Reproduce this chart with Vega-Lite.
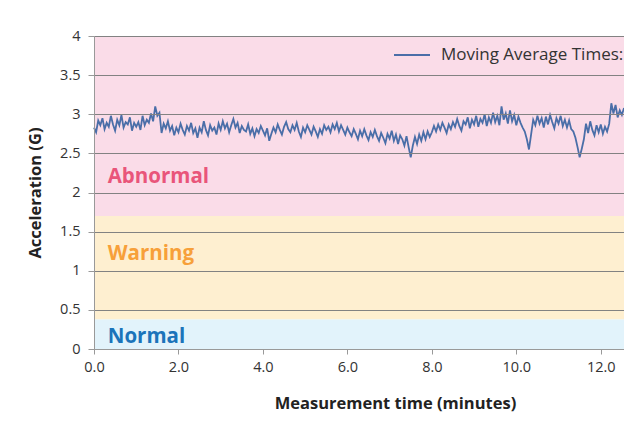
{
  "$schema": "https://vega.github.io/schema/vega-lite/v6.json",
  "width": 530,
  "height": 313,
  "autosize": {"type": "none"},
  "padding": {"left": 94, "top": 36, "right": 0, "bottom": 77},
  "background": "white",
  "config": {
    "view": {"stroke": null},
    "font": "Open Sans",
    "axis": {"labelFontSize": 14.5, "labelColor": "#333", "titleFontSize": 16.5, "titleFontWeight": "bold", "titleColor": "#222",
      "tickColor": "#999", "domainColor": "#999", "labelOverlap": false, "labelFlush": false},
    "axisX": {"grid": false, "tickSize": 5, "labelPadding": 6, "titlePadding": 22},
    "axisY": {"grid": true, "gridColor": "#828282", "gridWidth": 1.1, "tickSize": 6, "labelPadding": 8, "titlePadding": 16}
  },
  "resolve": {"scale": {"color": "independent"}, "legend": {"color": "independent"}},
  "layer": [
    {
      "data": {"values": [
        {"band": "Normal", "lo": 0, "hi": 0.38},
        {"band": "Warning", "lo": 0.38, "hi": 1.7},
        {"band": "Abnormal", "lo": 1.7, "hi": 4}
      ]},
      "mark": {"type": "rect"},
      "encoding": {
        "x": {"datum": 0, "type": "quantitative", "scale": {"domain": [0, 12.55], "nice": false, "zero": false},
          "axis": {"title": "Measurement time (minutes)", "values": [0, 2, 4, 6, 8, 10, 12], "format": ".1f", "titleX": 301, "zindex": 1}},
        "x2": {"datum": 12.55},
        "y": {"field": "lo", "type": "quantitative", "scale": {"domain": [0, 4], "nice": false},
          "axis": {"title": "Acceleration (G)", "values": [0, 0.5, 1, 1.5, 2, 2.5, 3, 3.5, 4], "format": "~g", "zindex": 1, "grid": true}},
        "y2": {"field": "hi"},
        "color": {"field": "band", "type": "nominal", "scale": {"domain": ["Normal", "Warning", "Abnormal"], "range": ["#e2f3fb", "#feefd0", "#fadce8"]}, "legend": null}
      }
    },
    {
      "data": {"values": [
        {"band": "Abnormal", "t": 0.325, "g": 2.2},
        {"band": "Warning", "t": 0.325, "g": 1.22},
        {"band": "Normal", "t": 0.325, "g": 0.15}
      ]},
      "mark": {"type": "text", "align": "left", "baseline": "middle", "fontSize": 20.5, "fontWeight": "bold"},
      "encoding": {
        "x": {"field": "t", "type": "quantitative",
          "axis": {"title": "Measurement time (minutes)", "values": [0, 2, 4, 6, 8, 10, 12], "format": ".1f", "titleX": 301, "zindex": 1}},
        "y": {"field": "g", "type": "quantitative",
          "axis": {"title": "Acceleration (G)", "values": [0, 0.5, 1, 1.5, 2, 2.5, 3, 3.5, 4], "format": "~g", "zindex": 1, "grid": true}},
        "text": {"field": "band"},
        "color": {"field": "band", "type": "nominal", "scale": {"domain": ["Normal", "Warning", "Abnormal"], "range": ["#1b74ba", "#f7a03a", "#e9557a"]}, "legend": null}
      }
    },
    {
      "data": {"values": [
        {"t":0.00,"g":2.83},{"t":0.05,"g":2.77},{"t":0.10,"g":2.92},{"t":0.15,"g":2.86},{"t":0.20,"g":2.95},{"t":0.25,"g":2.81},{"t":0.30,"g":2.89},{"t":0.35,"g":2.84},{"t":0.40,"g":2.98},{"t":0.45,"g":2.87},
        {"t":0.50,"g":2.79},{"t":0.55,"g":2.93},{"t":0.60,"g":2.86},{"t":0.65,"g":2.99},{"t":0.70,"g":2.83},{"t":0.75,"g":2.90},{"t":0.80,"g":2.87},{"t":0.85,"g":2.96},{"t":0.90,"g":2.79},{"t":0.95,"g":2.89},
        {"t":1.00,"g":2.84},{"t":1.05,"g":2.90},{"t":1.10,"g":2.80},{"t":1.15,"g":2.98},{"t":1.20,"g":2.86},{"t":1.25,"g":2.93},{"t":1.30,"g":2.89},{"t":1.35,"g":3.01},{"t":1.40,"g":2.91},{"t":1.45,"g":3.10},
        {"t":1.50,"g":2.98},{"t":1.55,"g":3.02},{"t":1.60,"g":2.76},{"t":1.65,"g":2.88},{"t":1.70,"g":2.82},{"t":1.75,"g":2.91},{"t":1.80,"g":2.79},{"t":1.85,"g":2.85},{"t":1.90,"g":2.73},{"t":1.95,"g":2.83},
        {"t":2.00,"g":2.77},{"t":2.05,"g":2.88},{"t":2.10,"g":2.80},{"t":2.15,"g":2.74},{"t":2.20,"g":2.85},{"t":2.25,"g":2.79},{"t":2.30,"g":2.89},{"t":2.35,"g":2.76},{"t":2.40,"g":2.82},{"t":2.45,"g":2.70},
        {"t":2.50,"g":2.83},{"t":2.55,"g":2.77},{"t":2.60,"g":2.91},{"t":2.65,"g":2.80},{"t":2.70,"g":2.73},{"t":2.75,"g":2.86},{"t":2.80,"g":2.79},{"t":2.85,"g":2.83},{"t":2.90,"g":2.74},{"t":2.95,"g":2.88},
        {"t":3.00,"g":2.80},{"t":3.05,"g":2.91},{"t":3.10,"g":2.82},{"t":3.15,"g":2.88},{"t":3.20,"g":2.77},{"t":3.25,"g":2.86},{"t":3.30,"g":2.94},{"t":3.35,"g":2.83},{"t":3.40,"g":2.89},{"t":3.45,"g":2.76},
        {"t":3.50,"g":2.85},{"t":3.55,"g":2.80},{"t":3.60,"g":2.78},{"t":3.65,"g":2.87},{"t":3.70,"g":2.75},{"t":3.75,"g":2.82},{"t":3.80,"g":2.72},{"t":3.85,"g":2.81},{"t":3.90,"g":2.76},{"t":3.95,"g":2.85},
        {"t":4.00,"g":2.79},{"t":4.05,"g":2.73},{"t":4.10,"g":2.82},{"t":4.15,"g":2.66},{"t":4.20,"g":2.75},{"t":4.25,"g":2.83},{"t":4.30,"g":2.77},{"t":4.35,"g":2.87},{"t":4.40,"g":2.80},{"t":4.45,"g":2.74},
        {"t":4.50,"g":2.84},{"t":4.55,"g":2.90},{"t":4.60,"g":2.81},{"t":4.65,"g":2.77},{"t":4.70,"g":2.86},{"t":4.75,"g":2.80},{"t":4.80,"g":2.89},{"t":4.85,"g":2.78},{"t":4.90,"g":2.71},{"t":4.95,"g":2.83},
        {"t":5.00,"g":2.77},{"t":5.05,"g":2.86},{"t":5.10,"g":2.80},{"t":5.15,"g":2.74},{"t":5.20,"g":2.84},{"t":5.25,"g":2.78},{"t":5.30,"g":2.71},{"t":5.35,"g":2.81},{"t":5.40,"g":2.75},{"t":5.45,"g":2.86},
        {"t":5.50,"g":2.80},{"t":5.55,"g":2.84},{"t":5.60,"g":2.77},{"t":5.65,"g":2.87},{"t":5.70,"g":2.81},{"t":5.75,"g":2.89},{"t":5.80,"g":2.78},{"t":5.85,"g":2.86},{"t":5.90,"g":2.80},{"t":5.95,"g":2.74},
        {"t":6.00,"g":2.83},{"t":6.05,"g":2.77},{"t":6.10,"g":2.72},{"t":6.15,"g":2.81},{"t":6.20,"g":2.75},{"t":6.25,"g":2.68},{"t":6.30,"g":2.79},{"t":6.35,"g":2.72},{"t":6.40,"g":2.81},{"t":6.45,"g":2.73},
        {"t":6.50,"g":2.67},{"t":6.55,"g":2.77},{"t":6.60,"g":2.71},{"t":6.65,"g":2.80},{"t":6.70,"g":2.72},{"t":6.75,"g":2.66},{"t":6.80,"g":2.76},{"t":6.85,"g":2.70},{"t":6.90,"g":2.63},{"t":6.95,"g":2.75},
        {"t":7.00,"g":2.69},{"t":7.05,"g":2.79},{"t":7.10,"g":2.66},{"t":7.15,"g":2.74},{"t":7.20,"g":2.62},{"t":7.25,"g":2.73},{"t":7.30,"g":2.68},{"t":7.35,"g":2.60},{"t":7.40,"g":2.72},{"t":7.45,"g":2.58},
        {"t":7.50,"g":2.45},{"t":7.55,"g":2.60},{"t":7.60,"g":2.71},{"t":7.65,"g":2.62},{"t":7.70,"g":2.74},{"t":7.75,"g":2.66},{"t":7.80,"g":2.77},{"t":7.85,"g":2.68},{"t":7.90,"g":2.78},{"t":7.95,"g":2.71},
        {"t":8.00,"g":2.77},{"t":8.05,"g":2.85},{"t":8.10,"g":2.78},{"t":8.15,"g":2.87},{"t":8.20,"g":2.80},{"t":8.25,"g":2.89},{"t":8.30,"g":2.83},{"t":8.35,"g":2.76},{"t":8.40,"g":2.87},{"t":8.45,"g":2.81},
        {"t":8.50,"g":2.90},{"t":8.55,"g":2.84},{"t":8.60,"g":2.94},{"t":8.65,"g":2.85},{"t":8.70,"g":2.79},{"t":8.75,"g":2.91},{"t":8.80,"g":2.87},{"t":8.85,"g":2.96},{"t":8.90,"g":2.82},{"t":8.95,"g":2.93},
        {"t":9.00,"g":2.87},{"t":9.05,"g":2.98},{"t":9.10,"g":2.84},{"t":9.15,"g":2.94},{"t":9.20,"g":2.89},{"t":9.25,"g":3.00},{"t":9.30,"g":2.85},{"t":9.35,"g":2.96},{"t":9.40,"g":2.89},{"t":9.45,"g":3.02},
        {"t":9.50,"g":2.90},{"t":9.55,"g":2.98},{"t":9.60,"g":2.86},{"t":9.65,"g":3.10},{"t":9.70,"g":2.93},{"t":9.75,"g":3.01},{"t":9.80,"g":2.88},{"t":9.85,"g":3.05},{"t":9.90,"g":2.91},{"t":9.95,"g":2.99},
        {"t":10.00,"g":2.86},{"t":10.05,"g":2.97},{"t":10.10,"g":2.89},{"t":10.15,"g":2.83},{"t":10.20,"g":2.78},{"t":10.25,"g":2.68},{"t":10.30,"g":2.55},{"t":10.35,"g":2.74},{"t":10.40,"g":2.93},{"t":10.45,"g":2.86},
        {"t":10.50,"g":2.98},{"t":10.55,"g":2.88},{"t":10.60,"g":2.95},{"t":10.65,"g":2.83},{"t":10.70,"g":2.97},{"t":10.75,"g":2.87},{"t":10.80,"g":2.99},{"t":10.85,"g":2.90},{"t":10.90,"g":2.82},{"t":10.95,"g":2.95},
        {"t":11.00,"g":2.88},{"t":11.05,"g":2.98},{"t":11.10,"g":2.85},{"t":11.15,"g":2.93},{"t":11.20,"g":2.83},{"t":11.25,"g":2.92},{"t":11.30,"g":2.81},{"t":11.35,"g":2.78},{"t":11.40,"g":2.70},{"t":11.45,"g":2.58},
        {"t":11.50,"g":2.45},{"t":11.55,"g":2.56},{"t":11.60,"g":2.68},{"t":11.65,"g":2.88},{"t":11.70,"g":2.76},{"t":11.75,"g":2.91},{"t":11.80,"g":2.80},{"t":11.85,"g":2.73},{"t":11.90,"g":2.86},{"t":11.95,"g":2.77},
        {"t":12.00,"g":2.87},{"t":12.05,"g":2.75},{"t":12.10,"g":2.84},{"t":12.15,"g":2.78},{"t":12.20,"g":2.88},{"t":12.25,"g":3.14},{"t":12.30,"g":3.01},{"t":12.35,"g":3.12},{"t":12.40,"g":2.96},{"t":12.45,"g":3.05},
        {"t":12.50,"g":2.99},{"t":12.55,"g":3.08}
      ]},
      "mark": {"type": "line", "strokeWidth": 1.8, "interpolate": "linear"},
      "encoding": {
        "x": {"field": "t", "type": "quantitative",
          "axis": {"title": "Measurement time (minutes)", "values": [0, 2, 4, 6, 8, 10, 12], "format": ".1f", "titleX": 301, "zindex": 1}},
        "y": {"field": "g", "type": "quantitative",
          "axis": {"title": "Acceleration (G)", "values": [0, 0.5, 1, 1.5, 2, 2.5, 3, 3.5, 4], "format": "~g", "zindex": 1, "grid": true}},
        "color": {"datum": "Moving Average Times:", "type": "nominal", "scale": {"range": ["#4a6ea8"]},
          "legend": {"orient": "none", "legendX": 299, "legendY": 0, "title": null, "symbolType": "stroke", "symbolSize": 1296,
            "symbolStrokeWidth": 2, "labelFontSize": 17, "labelColor": "#333", "labelLimit": 400, "labelOffset": 10, "padding": 0}}
      }
    }
  ]
}
